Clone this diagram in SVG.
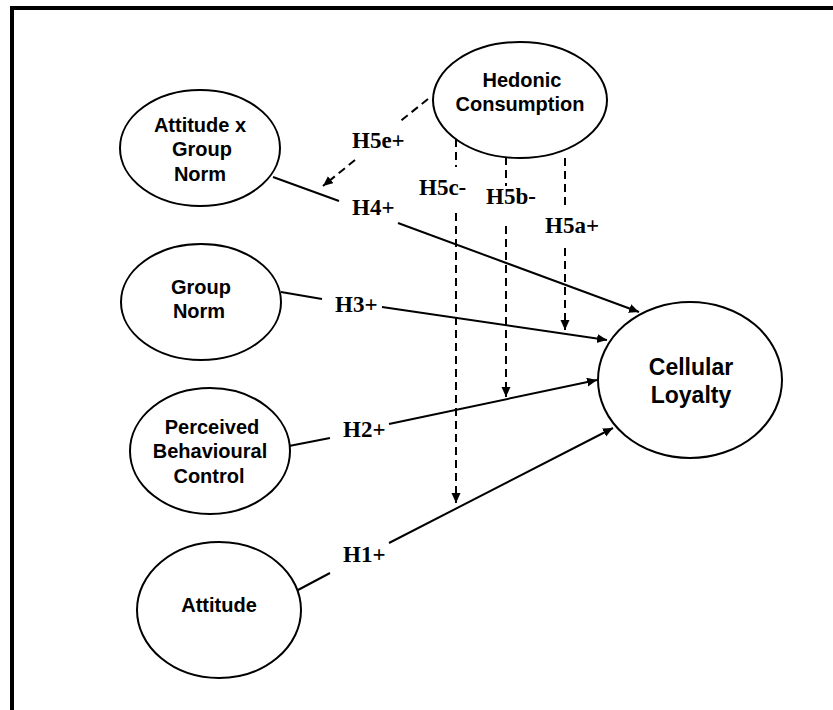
<svg xmlns="http://www.w3.org/2000/svg" width="833" height="710" viewBox="0 0 833 710">
<style>
.node ellipse{fill:#fff;stroke:#000;stroke-width:2}
.nt{font-family:"Liberation Sans",Arial,sans-serif;font-weight:bold;font-size:20px;fill:#000;text-anchor:middle}
.big{font-size:23px}
.lbl{font-family:"Liberation Serif","Times New Roman",serif;font-weight:bold;font-size:23px;fill:#000}
.solid{fill:none;stroke:#000;stroke-width:2;marker-end:url(#ah)}
.dash{fill:none;stroke:#000;stroke-width:2;stroke-dasharray:8,5;marker-end:url(#ah)}
</style>
<defs>
<marker id="ah" markerUnits="userSpaceOnUse" markerWidth="11" markerHeight="10" refX="10" refY="4.5" orient="auto">
<path d="M0,0 L10,4.5 L0,9 z" fill="#000"/>
</marker>
</defs>
<rect width="833" height="710" fill="#fff"/>
<path d="M12,712 L12,8 L835,8" fill="none" stroke="#000" stroke-width="4"/>

<g id="connectors">
<path class="solid" d="M273,177 L339,201 M398,223 L639,312"/>
<path class="solid" d="M281,292 L322,299 M382,307 L607,340"/>
<path class="solid" d="M289,446 L330,438 M389,424 L597,380"/>
<path class="solid" d="M298,590 L330,573 M389,543 L613,428"/>
<path class="dash" d="M456,139 L456,167 M456,213 L456,503"/>
<path class="dash" d="M506,157 L506,186 M506,226 L506,397"/>
<path class="dash" d="M565,158 L565,205 M565,248 L565,330"/>
<path class="dash" d="M428,99 L398,123 M355,160 L323,186"/>
<text class="lbl" x="352" y="148">H5e+</text>
<text class="lbl" x="352" y="215">H4+</text>
<text class="lbl" x="419" y="195">H5c-</text>
<text class="lbl" x="486" y="204">H5b-</text>
<text class="lbl" x="545" y="233">H5a+</text>
<text class="lbl" x="335" y="312">H3+</text>
<text class="lbl" x="343" y="437">H2+</text>
<text class="lbl" x="343" y="562">H1+</text>
</g>

<g id="hedonic" class="node">
<ellipse cx="520" cy="100" rx="87" ry="58"/>
<text class="nt" x="522" y="87">Hedonic</text>
<text class="nt" x="520" y="111">Consumption</text>
</g>
<g id="attxnorm" class="node">
<ellipse cx="200" cy="148" rx="80" ry="58"/>
<text class="nt" x="200" y="132">Attitude x</text>
<text class="nt" x="202" y="156">Group</text>
<text class="nt" x="200" y="181">Norm</text>
</g>
<g id="groupnorm" class="node">
<ellipse cx="201" cy="302" rx="80" ry="58"/>
<text class="nt" x="201" y="294">Group</text>
<text class="nt" x="199" y="318">Norm</text>
</g>
<g id="pbc" class="node">
<ellipse cx="210" cy="451" rx="80" ry="63"/>
<text class="nt" x="212" y="434">Perceived</text>
<text class="nt" x="210" y="458">Behavioural</text>
<text class="nt" x="209" y="483">Control</text>
</g>
<g id="attitude" class="node">
<ellipse cx="219" cy="610" rx="82" ry="68"/>
<text class="nt" x="219" y="612">Attitude</text>
</g>
<g id="loyalty" class="node">
<ellipse cx="690" cy="380" rx="92" ry="78"/>
<text class="nt big" x="691" y="375">Cellular</text>
<text class="nt big" x="691" y="403">Loyalty</text>
</g>
</svg>
